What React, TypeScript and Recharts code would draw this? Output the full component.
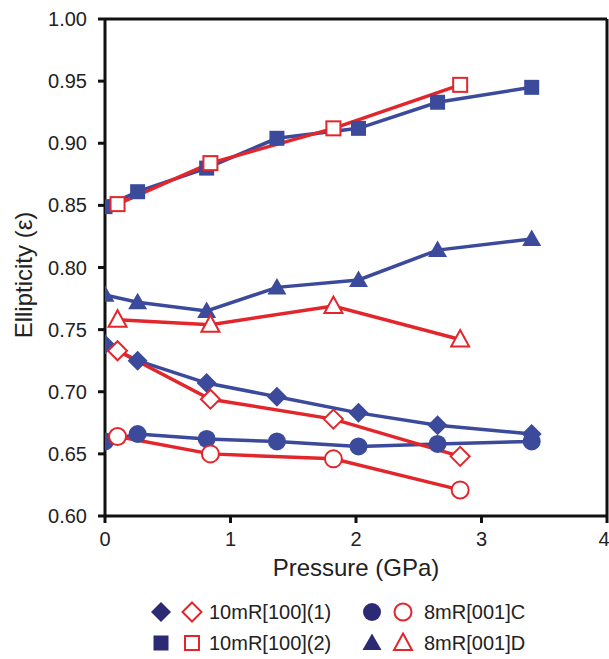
import { LineChart, Line, XAxis, YAxis, ReferenceLine, Label } from 'recharts';

// pressure (GPa) for the filled (blue) and open (red) runs
const bluePressure = [0, 0.26, 0.81, 1.37, 2.02, 2.65, 3.4];
const redPressure = [0.1, 0.84, 1.82, 2.83];

// ellipticity
const diamondFilled = [0.738, 0.725, 0.707, 0.696, 0.683, 0.673, 0.666];
const diamondOpen = [0.733, 0.694, 0.678, 0.648];
const squareFilled = [0.849, 0.861, 0.88, 0.904, 0.912, 0.933, 0.945];
const squareOpen = [0.851, 0.884, 0.912, 0.947];
const circleFilled = [0.66, 0.666, 0.662, 0.66, 0.656, 0.658, 0.66];
const circleOpen = [0.664, 0.65, 0.646, 0.621];
const triangleFilled = [0.778, 0.772, 0.765, 0.784, 0.79, 0.814, 0.823];
const triangleOpen = [0.758, 0.754, 0.769, 0.742];

const xTicks = [0, 1, 2, 3, 4];
const yTicks = [0.6, 0.65, 0.7, 0.75, 0.8, 0.85, 0.9, 0.95, 1.0];

const legendNames = ['10mR[100](1)', '8mR[001]C', '10mR[100](2)', '8mR[001]D'];

const BLUE = '#3b4a9b';
const RED = '#e2262b';
const NAVY = '#2b2a73';
const FONT = '"Liberation Sans", Arial, sans-serif';

type Shape = 'diamond' | 'square' | 'circle' | 'triangle';

function Marker({ shape, filled, cx, cy, color }: { shape: Shape; filled: boolean; cx: number; cy: number; color: string }) {
  const fill = filled ? color : '#fff';
  const stroke = filled ? 'none' : color;
  const sw = filled ? 0 : 2;
  if (shape === 'square') {
    const s = filled ? 15 : 14;
    return <rect x={cx - s / 2} y={cy - s / 2} width={s} height={s} fill={fill} stroke={stroke} strokeWidth={sw} />;
  }
  if (shape === 'circle') {
    return <circle cx={cx} cy={cy} r={filled ? 9 : 8.5} fill={fill} stroke={stroke} strokeWidth={sw} />;
  }
  if (shape === 'diamond') {
    const r = filled ? 10 : 9.5;
    return <polygon points={`${cx},${cy - r} ${cx + r},${cy} ${cx},${cy + r} ${cx - r},${cy}`} fill={fill} stroke={stroke} strokeWidth={sw} />;
  }
  const w = filled ? 9.5 : 9;
  return <polygon points={`${cx},${cy - 9.5} ${cx + w},${cy + 7} ${cx - w},${cy + 7}`} fill={fill} stroke={stroke} strokeWidth={sw} />;
}

const dotFor = (shape: Shape, filled: boolean, color: string) => (p: any) => (
  <Marker key={p.index} shape={shape} filled={filled} cx={p.cx} cy={p.cy} color={color} />
);

const toPoints = (xs: number[], ys: number[]) => xs.map((x, i) => ({ x, y: ys[i] }));

const series = [
  { key: 'df', shape: 'diamond' as Shape, filled: true, data: toPoints(bluePressure, diamondFilled) },
  { key: 'sf', shape: 'square' as Shape, filled: true, data: toPoints(bluePressure, squareFilled) },
  { key: 'cf', shape: 'circle' as Shape, filled: true, data: toPoints(bluePressure, circleFilled) },
  { key: 'tf', shape: 'triangle' as Shape, filled: true, data: toPoints(bluePressure, triangleFilled) },
  { key: 'do', shape: 'diamond' as Shape, filled: false, data: toPoints(redPressure, diamondOpen) },
  { key: 'so', shape: 'square' as Shape, filled: false, data: toPoints(redPressure, squareOpen) },
  { key: 'co', shape: 'circle' as Shape, filled: false, data: toPoints(redPressure, circleOpen) },
  { key: 'to', shape: 'triangle' as Shape, filled: false, data: toPoints(redPressure, triangleOpen) },
];

const legendShapes: Shape[] = ['diamond', 'circle', 'square', 'triangle'];

function ChartLegend() {
  return (
    <svg width={609} height={69} style={{ position: 'absolute', left: 0, top: 590 }}>
      {legendNames.map((name, i) => {
        const col = i % 2;
        const row = Math.floor(i / 2);
        const cy = row === 0 ? 22 : 53;
        const x0 = col === 0 ? 161 : 372;
        return (
          <g key={name}>
            <Marker shape={legendShapes[i]} filled cx={x0} cy={cy} color={NAVY} />
            <Marker shape={legendShapes[i]} filled={false} cx={x0 + 31} cy={cy} color={RED} />
            <text x={col === 0 ? 209 : 424} y={cy + 7} fontSize={20} fontFamily={FONT} fill="#222">
              {name}
            </text>
          </g>
        );
      })}
    </svg>
  );
}

export default function App() {
  const axisStroke = { stroke: '#111', strokeWidth: 3 };
  return (
    <div style={{ position: 'absolute', left: 0, top: 0, width: 609, height: 659, background: '#fff' }}>
      <LineChart width={609} height={590} margin={{ top: 19, right: 2, left: 10, bottom: 4 }}>
        <XAxis
          type="number"
          dataKey="x"
          domain={[0, 4]}
          ticks={xTicks}
          height={70}
          axisLine={axisStroke}
          tickLine={axisStroke}
          tickSize={7}
          tickMargin={9}
          tick={{ fill: '#222', fontSize: 20, fontFamily: FONT }}
          allowDataOverflow
        >
          <Label
            content={() => (
              <text x={356} y={576} textAnchor="middle" fontSize={24} fontFamily={FONT} fill="#222">
                Pressure (GPa)
              </text>
            )}
          />
        </XAxis>
        <YAxis
          type="number"
          domain={[0.6, 1.0]}
          ticks={yTicks}
          width={95}
          axisLine={axisStroke}
          tickLine={axisStroke}
          tickSize={7}
          tickMargin={11}
          tickFormatter={(v: number) => v.toFixed(2)}
          tick={{ fill: '#222', fontSize: 20, fontFamily: FONT }}
          allowDataOverflow
        >
          <Label
            content={() => (
              <text x={32} y={275} textAnchor="middle" fontSize={24} fontFamily={FONT} fill="#222" transform="rotate(-90, 32, 275)">
                Ellipticity (ε)
              </text>
            )}
          />
        </YAxis>
        <ReferenceLine y={1} stroke="#111" strokeWidth={3} />
        <ReferenceLine x={4} stroke="#111" strokeWidth={3} />
        {series.map((s) => (
          <Line
            key={s.key}
            data={s.data}
            dataKey="y"
            type="linear"
            stroke={s.filled ? BLUE : RED}
            strokeWidth={3.5}
            dot={dotFor(s.shape, s.filled, s.filled ? BLUE : RED)}
            activeDot={false}
            isAnimationActive={false}
          />
        ))}
      </LineChart>
      <ChartLegend />
    </div>
  );
}
